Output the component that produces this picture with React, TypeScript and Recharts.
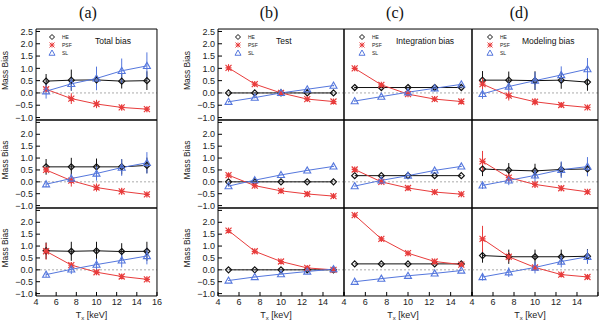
import React from "react";
import { LineChart, Line, XAxis, YAxis, ErrorBar, ReferenceLine, Legend, Label } from "recharts";

const temperature = [5, 7.5, 10, 12.5, 15];
const columnTags = ["(a)", "(b)", "(c)", "(d)"];
const panelTitles = ["Total bias", "Test", "Integration bias", "Modeling bias"];
const seriesNames = ["HE", "PSF", "SL"];
const xTicks = [4, 6, 8, 10, 12, 14, 16];
const yTicks = [-1, -0.5, 0, 0.5, 1, 1.5, 2, 2.5];
const xMinorTicks = Array.from({ length: 25 }, (_, i) => 4 + i * 0.5);
const yMinorTicks = Array.from({ length: 37 }, (_, i) => Math.round((-1.1 + i * 0.1) * 10) / 10);

// [row][column (a..d)][temperature]
const heBias = [
  [[0.48, 0.52, 0.53, 0.48, 0.5], [0, 0, 0, 0, 0], [0.22, 0.22, 0.22, 0.22, 0.22], [0.52, 0.52, 0.5, 0.52, 0.44]],
  [[0.63, 0.63, 0.63, 0.63, 0.69], [0, 0, 0, 0, 0], [0.26, 0.26, 0.26, 0.26, 0.26], [0.54, 0.49, 0.46, 0.52, 0.54]],
  [[0.8, 0.78, 0.8, 0.77, 0.78], [0, 0, 0, 0, 0], [0.25, 0.25, 0.25, 0.25, 0.25], [0.6, 0.55, 0.55, 0.55, 0.57]],
];
const heErr = [
  [[0.29, 0.43, 0.37, 0.3, 0.38], [0, 0, 0, 0, 0], [0.03, 0.03, 0.03, 0.03, 0.03], [0.37, 0.35, 0.38, 0.35, 0.35]],
  [[0.33, 0.38, 0.35, 0.32, 0.33], [0, 0, 0, 0, 0], [0, 0, 0, 0, 0], [0.3, 0.3, 0.3, 0.3, 0.3]],
  [[0.35, 0.4, 0.38, 0.35, 0.4], [0, 0, 0, 0, 0], [0, 0, 0, 0, 0], [0.3, 0.3, 0.3, 0.3, 0.3]],
];
const psfBias = [
  [[0.15, -0.23, -0.45, -0.59, -0.66], [1.02, 0.36, 0, -0.25, -0.35], [1.0, 0.33, -0.05, -0.25, -0.35], [0.36, -0.11, -0.36, -0.49, -0.59]],
  [[0.5, 0.05, -0.24, -0.4, -0.53], [0.28, -0.16, -0.38, -0.51, -0.6], [0.52, 0.0, -0.26, -0.43, -0.52], [0.86, 0.18, -0.11, -0.27, -0.42]],
  [[0.78, 0.2, -0.1, -0.28, -0.4], [1.65, 0.78, 0.35, 0.08, 0.0], [2.3, 1.3, 0.7, 0.35, 0.22], [1.3, 0.55, 0.1, -0.2, -0.3]],
];
const psfErr = [
  [[0.1, 0.22, 0.17, 0.12, 0.08], [0.15, 0.05, 0.03, 0.03, 0.03], [0.05, 0.03, 0.03, 0.03, 0.03], [0.25, 0.2, 0.15, 0.1, 0.08]],
  [[0.1, 0.25, 0.17, 0.15, 0.08], [0.04, 0.03, 0.03, 0.03, 0.03], [0.04, 0.03, 0.03, 0.03, 0.03], [0.44, 0.2, 0.15, 0.12, 0.1]],
  [[0.35, 0.12, 0.1, 0.1, 0.08], [0.05, 0.04, 0.04, 0.03, 0.03], [0.06, 0.05, 0.04, 0.04, 0.03], [0.55, 0.2, 0.12, 0.1, 0.1]],
];
const slBias = [
  [[0.07, 0.37, 0.59, 0.9, 1.1], [-0.36, -0.19, 0, 0.15, 0.3], [-0.33, -0.15, 0.03, 0.19, 0.35], [-0.04, 0.26, 0.5, 0.73, 0.97]],
  [[-0.1, 0.14, 0.35, 0.6, 0.8], [-0.18, 0.07, 0.29, 0.48, 0.65], [-0.18, 0.06, 0.26, 0.48, 0.65], [-0.15, 0.06, 0.27, 0.51, 0.64]],
  [[-0.2, 0.02, 0.22, 0.4, 0.58], [-0.45, -0.3, -0.18, -0.07, 0.03], [-0.5, -0.37, -0.25, -0.15, -0.03], [-0.3, -0.1, 0.1, 0.35, 0.55]],
];
const slErr = [
  [[0.3, 0.27, 0.48, 0.5, 0.55], [0.03, 0.03, 0.03, 0.03, 0.03], [0.03, 0.03, 0.03, 0.03, 0.03], [0.2, 0.2, 0.35, 0.35, 0.45]],
  [[0.12, 0.2, 0.3, 0.35, 0.45], [0.02, 0.02, 0.02, 0.02, 0.02], [0.02, 0.02, 0.02, 0.02, 0.02], [0.15, 0.2, 0.25, 0.35, 0.4]],
  [[0.1, 0.2, 0.25, 0.3, 0.35], [0.02, 0.02, 0.02, 0.02, 0.02], [0.02, 0.02, 0.02, 0.02, 0.02], [0.15, 0.2, 0.25, 0.25, 0.3]],
];

const COLS = [[36, 157], [218, 344], [344, 472], [472, 598]];
const ROWS = [[29, 120], [120, 208], [208, 296]];
const TAG_X = [88, 269, 395, 519];
const TITLE_X = [95, 276, 396, 522];
const LEGEND_DX = [16, 20, 18, 18];
const THIN = 0.01;

const HE_COLOR = "#111";
const PSF_COLOR = "#e83c3c";
const SL_COLOR = "#5577dd";
const SANS = "'Liberation Sans', Arial, sans-serif";

const fmtY = (v: number) => (v < 0 ? "\u2212" + Math.abs(v).toFixed(1) : v.toFixed(1));

function diamondPath(cx: number, cy: number, s = 3) {
  return `M${cx},${cy - s}L${cx + s},${cy}L${cx},${cy + s}L${cx - s},${cy}Z`;
}
function starPath(cx: number, cy: number, s = 3) {
  return `M${cx - s},${cy - s}L${cx + s},${cy + s}M${cx - s},${cy + s}L${cx + s},${cy - s}M${cx - s},${cy}L${cx + s},${cy}M${cx},${cy - s}L${cx},${cy + s}`;
}
function trianglePath(cx: number, cy: number, s = 3.5) {
  return `M${cx},${cy - s}L${cx + s},${cy + s * 0.75}L${cx - s},${cy + s * 0.75}Z`;
}

const heDot = (p: any) => (
  <path key={`he${p.index}`} d={diamondPath(p.cx, p.cy)} fill="none" stroke={HE_COLOR} strokeWidth={1.2} />
);
const psfDot = (p: any) => (
  <path key={`psf${p.index}`} d={starPath(p.cx, p.cy)} fill="none" stroke={PSF_COLOR} strokeWidth={1.2} />
);
const slDot = (p: any) => (
  <path key={`sl${p.index}`} d={trianglePath(p.cx, p.cy)} fill="none" stroke={SL_COLOR} strokeWidth={1.1} />
);

function LegendBox() {
  const paths = [
    (x: number, y: number) => <path d={diamondPath(x, y, 2.5)} fill="none" stroke={HE_COLOR} strokeWidth={1} />,
    (x: number, y: number) => <path d={starPath(x, y, 2.5)} fill="none" stroke={PSF_COLOR} strokeWidth={1} />,
    (x: number, y: number) => <path d={trianglePath(x, y, 3)} fill="none" stroke={SL_COLOR} strokeWidth={1} />,
  ];
  return (
    <svg width={30} height={26} style={{ display: "block" }}>
      {seriesNames.map((n, i) => (
        <g key={n}>
          {paths[i](4, 4 + i * 8)}
          <text x={14} y={4 + i * 8} fontSize={5} fontFamily={SANS} fill="#222" dominantBaseline="central">
            {n}
          </text>
        </g>
      ))}
    </svg>
  );
}

function Panel({ r, c }: { r: number; c: number }) {
  const [x0, x1] = COLS[c];
  const [y0, y1] = ROWS[r];
  const mL = c < 2 ? 40 : 3;
  const mR = c === 0 ? 10 : 3;
  const mT = 3;
  const mB = r === 2 ? 26 : 3;
  const width = x1 - x0 + mL + mR;
  const height = y1 - y0 + mT + mB;
  const showY = c < 2;
  const showX = r === 2;
  const data = temperature.map((t, i) => ({
    t,
    he: heBias[r][c][i],
    heE: heErr[r][c][i],
    psf: psfBias[r][c][i],
    psfE: psfErr[r][c][i],
    sl: slBias[r][c][i],
    slE: slErr[r][c][i],
  }));
  const tickStyle = { fontSize: 9, fill: "#222", fontFamily: SANS };
  const axisCommon = { axisLine: { stroke: "#000" }, tickLine: { stroke: "#000" }, allowDataOverflow: true, interval: 0 as const };
  const yLabel = (v: number) => (r > 0 && v === 2.5 ? "" : fmtY(v));
  const xLabel = (v: number) => (c > 0 && v === 16 ? "" : String(v));

  return (
    <div style={{ position: "absolute", left: x0 - mL, top: y0 - mT }}>
      <LineChart width={width} height={height} data={data} margin={{ top: mT, right: mR, bottom: mB, left: mL }}>
        <XAxis xAxisId="x" dataKey="t" type="number" domain={[4, 16]} ticks={xTicks} height={THIN}
          tickSize={-4} tickMargin={7} tick={showX ? tickStyle : false} tickFormatter={xLabel} {...axisCommon}>
          {showX && (
            <Label
              content={({ viewBox }: any) => (
                <text x={viewBox.x + viewBox.width / 2 - 5} y={viewBox.y + 22} textAnchor="middle" fontSize={9} fontFamily={SANS} fill="#222">
                  T<tspan fontSize={6} dy={2}>x</tspan>
                  <tspan dy={-2}> [keV]</tspan>
                </text>
              )}
            />
          )}
        </XAxis>
        <XAxis xAxisId="xt" type="number" orientation="top" domain={[4, 16]} ticks={xTicks} height={THIN}
          tickSize={-4} tick={false} {...axisCommon} />
        <XAxis xAxisId="xbm" type="number" domain={[4, 16]} ticks={xMinorTicks} height={THIN}
          tickSize={-2} tick={false} {...axisCommon} axisLine={false} />
        <XAxis xAxisId="xtm" type="number" orientation="top" domain={[4, 16]} ticks={xMinorTicks} height={THIN}
          tickSize={-2} tick={false} {...axisCommon} axisLine={false} />
        <YAxis yAxisId="y" type="number" domain={[-1.1, 2.6]} ticks={yTicks} width={THIN}
          tickSize={-4} tickMargin={7} tick={showY ? tickStyle : false} tickFormatter={yLabel} {...axisCommon}>
          {showY && (
            <Label
              content={({ viewBox }: any) => {
                const lx = viewBox.x - 28;
                const ly = viewBox.y + viewBox.height / 2 - 4;
                return (
                  <text x={lx} y={ly} transform={`rotate(-90 ${lx} ${ly})`} textAnchor="middle" fontSize={8.5} fontFamily={SANS} fill="#222">
                    Mass  Bias
                  </text>
                );
              }}
            />
          )}
        </YAxis>
        <YAxis yAxisId="yr" type="number" orientation="right" domain={[-1.1, 2.6]} ticks={yTicks} width={THIN}
          tickSize={-4} tick={false} {...axisCommon} />
        <YAxis yAxisId="ylm" type="number" domain={[-1.1, 2.6]} ticks={yMinorTicks} width={THIN}
          tickSize={-2} tick={false} {...axisCommon} axisLine={false} />
        <YAxis yAxisId="yrm" type="number" orientation="right" domain={[-1.1, 2.6]} ticks={yMinorTicks} width={THIN}
          tickSize={-2} tick={false} {...axisCommon} axisLine={false} />
        <ReferenceLine xAxisId="x" yAxisId="y" y={0} stroke="#aaa" strokeDasharray="2 2" />
        <Line xAxisId="x" yAxisId="y" dataKey="he" stroke={HE_COLOR} strokeWidth={1} dot={heDot} isAnimationActive={false}>
          <ErrorBar dataKey="heE" width={0} stroke={HE_COLOR} strokeWidth={1} direction="y" />
        </Line>
        <Line xAxisId="x" yAxisId="y" dataKey="psf" stroke={PSF_COLOR} strokeWidth={1} dot={psfDot} isAnimationActive={false}>
          <ErrorBar dataKey="psfE" width={0} stroke={PSF_COLOR} strokeWidth={1} direction="y" />
        </Line>
        <Line xAxisId="x" yAxisId="y" dataKey="sl" stroke={SL_COLOR} strokeWidth={1} dot={slDot} isAnimationActive={false}>
          <ErrorBar dataKey="slE" width={0} stroke={SL_COLOR} strokeWidth={1} direction="y" />
        </Line>
        {r === 0 && (
          <Legend
            layout="vertical"
            align="center"
            verticalAlign="middle"
            content={() => <LegendBox />}
            wrapperStyle={{ left: mL + LEGEND_DX[c] - 4, top: mT + 4, width: 30, height: 26 }}
          />
        )}
      </LineChart>
    </div>
  );
}

export default function App() {
  return (
    <div style={{ position: "absolute", left: 0, top: 0, width: 600, height: 322, background: "#fff", overflow: "hidden" }}>
      {columnTags.map((t, i) => (
        <div key={t} style={{ position: "absolute", left: TAG_X[i] - 20, width: 40, top: 3, textAlign: "center", fontFamily: "'Liberation Serif', serif", fontSize: 16, lineHeight: "20px", color: "#111" }}>
          {t}
        </div>
      ))}
      {[0, 1, 2].map((r) => [0, 1, 2, 3].map((c) => <Panel key={`${r}-${c}`} r={r} c={c} />))}
      {panelTitles.map((t, i) => (
        <div key={t} style={{ position: "absolute", left: TITLE_X[i], top: 36, fontFamily: SANS, fontSize: 8.5, lineHeight: "11px", color: "#111", whiteSpace: "nowrap" }}>
          {t}
        </div>
      ))}
    </div>
  );
}
